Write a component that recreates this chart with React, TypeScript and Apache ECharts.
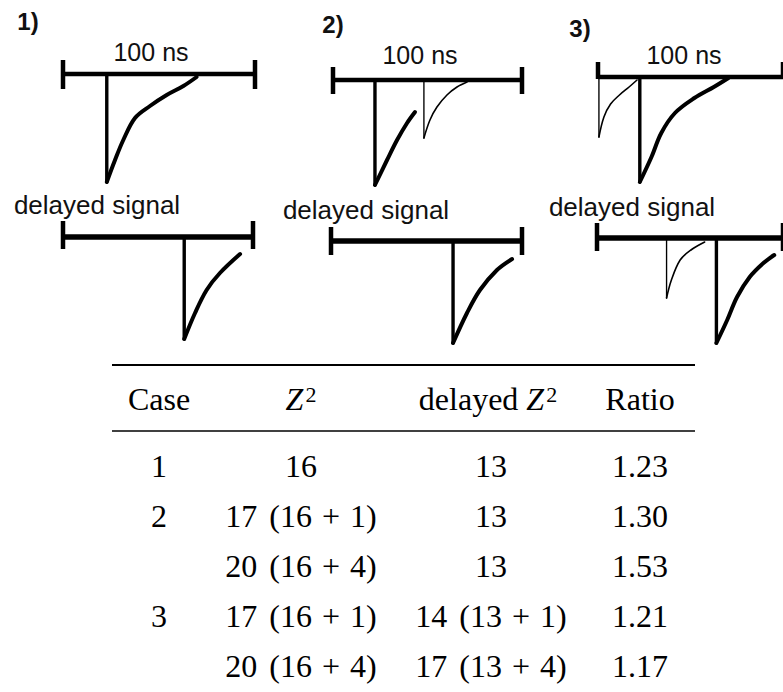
import React, { useEffect, useRef } from "react";
import * as echarts from "echarts";

// Pulse shapes: [time in ns within the 100 ns window, amplitude (negative = downward)]
const pulse1Prompt = [[22.8, 0], [22.8, -108], [27.1, -86], [31.4, -66], [37.5, -44], [45.3, -32], [54.0, -21], [62.7, -12], [69.6, -3]];
const pulse1Delayed = [[63.8, 0], [63.8, -102], [69.5, -76], [75.6, -53], [82.6, -36], [93.2, -17]];

const pulse2Prompt = [[22.2, 0], [22.2, -105], [28.6, -80], [33.9, -60], [39.2, -43], [43.4, -32]];
const pulse2Pileup = [[48.1, 0], [48.1, -58], [51.3, -40], [55.0, -27], [60.3, -15], [65.6, -7], [70.9, -2]];
const pulse2Delayed = [[63.9, 0], [63.9, -102], [71.2, -72], [78.0, -49], [86.9, -29], [94.8, -18]];

const pulse3Pre = [[0.5, 0], [0.5, -60], [3.2, -40], [6.8, -27], [11.6, -18], [16.8, -10], [21.1, -3]];
const pulse3Prompt = [[22.6, 0], [22.6, -105], [28.9, -80], [34.2, -56], [41.6, -36], [52.1, -21], [62.6, -10], [70.5, -1]];
const pulse3DelayedPre = [[37.4, 0], [37.4, -60], [40.0, -42], [44.7, -22], [50.5, -12], [57.9, -4]];
const pulse3Delayed = [[64.2, 0], [64.2, -105], [70.0, -82], [75.3, -59], [82.1, -39], [89.5, -25], [95.3, -17]];

// Table contents
const tableHeaders = ["Case", "{it|Z}{sup|2}", "delayed {it|Z}{sup|2}", "Ratio"];
const caseLabels = ["1", "2", "", "3", ""];
const z2Values = ["16", "17 (16 + 1)", "20 (16 + 4)", "17 (16 + 1)", "20 (16 + 4)"];
const delayedZ2Values = ["13", "13", "13", "14 (13 + 1)", "17 (13 + 4)"];
const ratioValues = ["1.23", "1.30", "1.53", "1.21", "1.17"];

const SANS = '"Liberation Sans", Arial, sans-serif';
const SERIF = '"Liberation Serif", "Times New Roman", serif';
const INK = "#000";
const CELL_FONT = 32;

// One grid per timeline: left edge = 0 ns, width spans 100 ns, base = pixel row of the baseline
const panels = [
  { left: 63, width: 192, base: 74, tick: [14, -15], ends: [0, 100], lw: 4.5 },
  { left: 63, width: 190, base: 237, tick: [16, -12], ends: [0, 100], lw: 5.5 },
  { left: 333, width: 189, base: 80, tick: [13, -14], ends: [0, 100], lw: 4.5 },
  { left: 331, width: 191, base: 241, tick: [14, -14], ends: [0, 100], lw: 5.5 },
  { left: 598, width: 190, base: 77, tick: [15, -2], ends: [0, 100], lw: 4.5 },
  { left: 597, width: 190, base: 238, tick: [15, -13], ends: [0, 100], lw: 5.5 },
];

const pulsesByPanel: { data: number[][]; w: number }[][] = [
  [{ data: pulse1Prompt, w: 4 }],
  [{ data: pulse1Delayed, w: 4 }],
  [{ data: pulse2Prompt, w: 4 }, { data: pulse2Pileup, w: 1.6 }],
  [{ data: pulse2Delayed, w: 4 }],
  [{ data: pulse3Pre, w: 1.6 }, { data: pulse3Prompt, w: 4 }],
  [{ data: pulse3DelayedPre, w: 1.6 }, { data: pulse3Delayed, w: 4 }],
];

function lineSeries(i: number, data: number[][], width: number, smooth: number | boolean, cap: string) {
  return {
    type: "line",
    xAxisIndex: i,
    yAxisIndex: i,
    data,
    symbol: "none",
    smooth,
    silent: true,
    clip: false,
    lineStyle: { color: INK, width, cap, join: "round" },
  };
}

// math-mode spacing: wider gap before the bracket, medium space around "+"
function mathRich(s: string): string {
  return s.replace(/ \(/g, "{g| }(").replace(/ \+ /g, "{op|+}");
}

export default function App() {
  const ref = useRef<HTMLDivElement>(null);

  useEffect(() => {
    if (!ref.current) return;
    const chart = echarts.init(ref.current, undefined, { renderer: "svg" });

    const series: any[] = [];
    panels.forEach((p, i) => {
      // baseline (the 100 ns window)
      series.push(lineSeries(i, [[0, 0], [100, 0]], p.lw, false, "butt"));
      // window end markers
      p.ends.forEach((t) => {
        series.push(lineSeries(i, [[t, p.tick[0]], [t, p.tick[1]]], 4.5, false, "butt"));
      });
      pulsesByPanel[i].forEach((pl) => {
        // sharp leading edge
        series.push(lineSeries(i, pl.data.slice(0, 2), pl.w * 0.85, false, "round"));
        // decaying tail
        series.push(lineSeries(i, pl.data.slice(1), pl.w, 0.35, "round"));
      });
    });

    const richStyles = {
      it: { fontFamily: SERIF, fontSize: CELL_FONT, fontStyle: "italic", fill: INK },
      sup: { fontFamily: SERIF, fontSize: 22, fill: INK, verticalAlign: "top", padding: [0, 0, 0, 2] },
      op: { fontFamily: SERIF, fontSize: CELL_FONT, fill: INK, padding: [0, 10] },
      g: { fontFamily: SERIF, fontSize: CELL_FONT, width: 12 },
    };

    const graphic: any[] = [];
    const label = (text: string, x: number, y: number, size: number, bold = false) =>
      graphic.push({
        type: "text",
        x,
        y,
        silent: true,
        style: {
          text,
          fontFamily: SANS,
          fontSize: size,
          fontWeight: bold ? "bold" : "normal",
          fill: "#111",
          align: "center",
          verticalAlign: "middle",
        },
      });

    label("1)", 28, 21, 24, true);
    label("2)", 333, 24, 24, true);
    label("3)", 580, 28, 24, true);
    label("100 ns", 151, 52, 25);
    label("100 ns", 420, 55, 25);
    label("100 ns", 684, 55, 25);
    label("delayed signal", 97, 205, 26);
    label("delayed signal", 366, 210, 26);
    label("delayed signal", 632, 207, 26);

    // table rules
    graphic.push({ type: "line", silent: true, shape: { x1: 112, y1: 365, x2: 695, y2: 365 }, style: { stroke: INK, lineWidth: 2.2 } });
    graphic.push({ type: "line", silent: true, shape: { x1: 112, y1: 431, x2: 695, y2: 431 }, style: { stroke: INK, lineWidth: 1.5 } });

    const cell = (text: string, x: number, y: number) =>
      graphic.push({
        type: "text",
        x,
        y,
        silent: true,
        style: {
          text,
          rich: richStyles,
          fontFamily: SERIF,
          fontSize: CELL_FONT,
          fill: INK,
          align: "center",
          verticalAlign: "middle",
        },
      });

    const headerX = [159, 301, 488, 640];
    const colX = [159, 301, 491, 640];
    tableHeaders.forEach((h, c) => cell(h, headerX[c], 399));
    const rowY = [466, 516, 566, 616, 666];
    rowY.forEach((y, r) => {
      if (caseLabels[r]) cell(caseLabels[r], colX[0], y);
      cell(mathRich(z2Values[r]), colX[1], y);
      cell(mathRich(delayedZ2Values[r]), colX[2], y);
      cell(ratioValues[r], colX[3], y);
    });

    chart.setOption({
      animation: false,
      backgroundColor: "#fff",
      grid: panels.map((p) => ({ left: p.left, width: p.width, top: p.base - 16, height: 126, show: false })),
      xAxis: panels.map((_, i) => ({ type: "value", gridIndex: i, min: 0, max: 100, show: false })),
      yAxis: panels.map((_, i) => ({ type: "value", gridIndex: i, min: -110, max: 16, show: false })),
      series,
      graphic,
    });

    return () => chart.dispose();
  }, []);

  return <div ref={ref} style={{ position: "absolute", left: 0, top: 0, width: 783, height: 692 }} />;
}
